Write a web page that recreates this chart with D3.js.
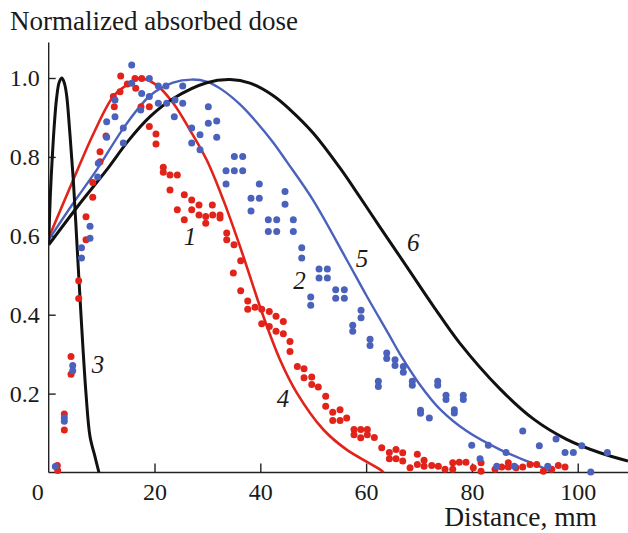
<!DOCTYPE html>
<html>
<head>
<meta charset="utf-8">
<script src="https://cdn.jsdelivr.net/npm/d3@7"></script>
<style>
  body { margin: 0; background: #fff; }
  text { font-family: "Liberation Serif", "Times New Roman", serif; fill: #1a1a1a; }
</style>
</head>
<body>
<script>
// SVG size
const w = 628;
const h = 533;

// Tick values
const xTicks = [20, 40, 60, 80, 100];
const yTicks = [0.2, 0.4, 0.6, 0.8, 1.0];

// Calculated curves [distance mm, dose]
const curve3 = [[0, 0.58], [0.3, 0.70], [0.6, 0.78], [1.0, 0.87], [1.5, 0.95], [2.0, 0.99], [2.5, 1.0],
  [3.0, 0.985], [3.4, 0.955], [4.0, 0.86], [4.65, 0.742], [5.4, 0.565], [6.1, 0.40], [7.05, 0.20],
  [7.8, 0.092], [8.75, 0.04], [9.5, 0.0]];
const curve4 = [[0, 0.595], [4.65, 0.742], [8.5, 0.86], [12.2, 0.953], [14.74, 0.982], [17.26, 0.999],
  [20.4, 0.982], [23.55, 0.936], [26.7, 0.868], [29.87, 0.792], [33.0, 0.691], [36.16, 0.573],
  [40.57, 0.396], [43.72, 0.286], [46.9, 0.202], [51.9, 0.109], [56.3, 0.058], [62.6, 0.008], [63.3, 0.0]];
const curve5 = [[0, 0.59], [4.5, 0.68], [9.07, 0.767], [14.5, 0.88], [19.15, 0.955], [23.5, 0.988],
  [27, 0.996], [30, 0.99], [33, 0.968], [36.16, 0.933], [39.3, 0.888], [42.46, 0.836], [45, 0.788],
  [50, 0.69], [56.3, 0.54], [60, 0.45], [64.5, 0.345], [66.4, 0.30], [70.2, 0.222], [74, 0.16],
  [79, 0.105], [85.3, 0.058], [91.6, 0.022], [94.1, 0.008], [95, 0.0]];
const curve6 = [[0, 0.577], [5.5, 0.675], [10.96, 0.767], [15, 0.84], [19.15, 0.902], [23.55, 0.948],
  [29.87, 0.988], [34.27, 0.996], [38.05, 0.987], [42.46, 0.955], [45.6, 0.92], [50.02, 0.86],
  [55.05, 0.772], [58.83, 0.698], [62.61, 0.622], [67.67, 0.522], [72.7, 0.422], [77.7, 0.328],
  [85.3, 0.212], [91.6, 0.136], [97.9, 0.084], [104.2, 0.05], [109.5, 0.029]];

// Measured points, series 1 (red)
const points1 = [[1.63, 0.018], [1.7, 0.005], [2.95, 0.148], [2.95, 0.108], [4.22, 0.294], [4.22, 0.249],
  [5.67, 0.486], [5.67, 0.441], [7.05, 0.648], [7.05, 0.59], [8.32, 0.735], [8.32, 0.698], [9.7, 0.813],
  [9.7, 0.788], [10.83, 0.853], [12.21, 0.953], [12.4, 0.927], [13.61, 1.005], [13.48, 0.965],
  [14.86, 0.985], [16.31, 0.999], [17.58, 0.999], [16.45, 0.974], [17.45, 0.927], [19.02, 0.927],
  [19.02, 0.877], [20.28, 0.858], [20.28, 0.833], [21.66, 0.774], [21.66, 0.761], [22.93, 0.754],
  [24.31, 0.754], [22.93, 0.716], [25.63, 0.704], [27.03, 0.691], [28.41, 0.678], [30.93, 0.678],
  [24.31, 0.666], [27.03, 0.666], [28.41, 0.653], [29.68, 0.649], [31.0, 0.653], [32.38, 0.653],
  [32.38, 0.645], [25.63, 0.641], [29.68, 0.632], [33.65, 0.607], [33.65, 0.59], [35.03, 0.577],
  [36.29, 0.537], [34.9, 0.506], [36.29, 0.461], [37.62, 0.435], [37.62, 0.414], [39.0, 0.419],
  [40.26, 0.414], [41.7, 0.408], [42.97, 0.396], [44.35, 0.383], [40.26, 0.377], [41.7, 0.37],
  [42.97, 0.358], [44.35, 0.352], [45.61, 0.332], [45.61, 0.307], [47.0, 0.269], [48.26, 0.263],
  [48.26, 0.24], [49.72, 0.242], [49.72, 0.223], [50.96, 0.217], [52.36, 0.193], [52.36, 0.168],
  [53.69, 0.153], [55.07, 0.159], [53.69, 0.132], [55.07, 0.132], [56.33, 0.138], [57.71, 0.109],
  [58.98, 0.109], [60.23, 0.109], [57.71, 0.096], [58.98, 0.088], [60.23, 0.096], [61.55, 0.089],
  [62.95, 0.063], [64.39, 0.051], [65.65, 0.058], [66.92, 0.05], [64.39, 0.035], [65.65, 0.035],
  [66.92, 0.029], [68.3, 0.012], [69.68, 0.046], [69.68, 0.02], [70.95, 0.031], [70.95, 0.016],
  [72.4, 0.018], [73.65, 0.016], [74.91, 0.008], [76.37, 0.025], [77.62, 0.026], [78.88, 0.026],
  [76.37, 0.008], [80.26, 0.012], [81.72, 0.025], [81.72, 0.003], [84.37, 0.008], [85.63, 0.014],
  [86.88, 0.025], [86.88, 0.014], [88.34, 0.012], [89.6, 0.014], [90.98, 0.02], [92.25, 0.02],
  [93.5, 0.003], [95.09, 0.008], [96.33, 0.018], [97.6, 0.014]];

// Measured points, series 2 (blue)
const points2 = [[1.25, 0.015], [2.95, 0.139], [2.95, 0.13], [4.54, 0.271], [4.54, 0.258], [6.2, 0.57],
  [6.2, 0.544], [7.81, 0.624], [7.81, 0.594], [9.26, 0.749], [9.38, 0.784], [10.96, 0.889], [10.96, 0.85],
  [12.53, 0.944], [12.53, 0.902], [14.1, 0.873], [14.1, 0.835], [15.69, 1.033], [15.69, 0.987],
  [17.39, 0.919], [17.58, 0.961], [19.02, 0.999], [19.02, 0.953], [20.72, 0.98], [22.17, 0.98],
  [25.33, 0.98], [20.72, 0.936], [22.31, 0.936], [23.88, 0.944], [25.33, 0.936], [23.74, 0.902],
  [30.17, 0.927], [30.17, 0.885], [31.76, 0.891], [31.76, 0.85], [27.03, 0.873], [27.03, 0.835],
  [28.6, 0.856], [28.6, 0.818], [35.09, 0.801], [36.67, 0.801], [33.52, 0.765], [35.09, 0.765],
  [36.67, 0.765], [33.52, 0.731], [39.81, 0.731], [38.24, 0.695], [39.81, 0.695], [38.24, 0.663],
  [44.67, 0.712], [44.67, 0.68], [41.51, 0.641], [43.1, 0.641], [46.24, 0.641], [41.51, 0.611],
  [43.1, 0.611], [46.24, 0.611], [47.83, 0.57], [47.83, 0.544], [51.1, 0.516], [52.67, 0.516],
  [51.1, 0.493], [52.67, 0.493], [54.25, 0.463], [55.88, 0.463], [54.25, 0.442], [55.88, 0.442],
  [49.53, 0.445], [49.53, 0.424], [59.04, 0.411], [59.04, 0.392], [57.47, 0.373], [57.47, 0.358],
  [60.74, 0.338], [60.74, 0.322], [63.89, 0.303], [63.89, 0.289], [65.46, 0.286], [65.46, 0.271],
  [67.03, 0.269], [67.03, 0.254], [62.31, 0.231], [62.31, 0.218], [68.73, 0.231], [68.73, 0.221],
  [70.28, 0.158], [70.28, 0.15], [71.95, 0.138], [73.53, 0.231], [73.53, 0.221], [75.1, 0.196],
  [75.1, 0.185], [76.67, 0.159], [76.67, 0.151], [78.37, 0.196], [78.37, 0.185], [79.96, 0.069],
  [81.53, 0.035], [83.1, 0.069], [84.69, 0.016], [86.45, 0.051], [88.01, 0.016], [89.6, 0.105],
  [92.74, 0.068], [94.33, 0.016], [95.9, 0.085], [97.6, 0.051], [99.17, 0.051], [100.76, 0.068],
  [102.46, 0.001], [105.6, 0.051]];

// Curve number labels [text, distance, dose]
const curveLabels = [["1", 26.7, 0.577], ["2", 47.4, 0.465], ["3", 9.3, 0.253],
  ["4", 44.3, 0.165], ["5", 59.2, 0.522], ["6", 68.9, 0.561]];

const red = "#e2231a";
const blue = "#4a62bc";

// Scales
const xScale = d3.scaleLinear().domain([0, 109.5]).range([48.7, 628]);
const yScale = d3.scaleLinear().domain([0, 1]).range([472.5, 78]);

const svg = d3.select("body")
    .append("svg")
    .attr("width", w)
    .attr("height", h);

svg.append("clipPath")
    .attr("id", "plot")
    .append("rect")
    .attr("x", xScale(0))
    .attr("y", 0)
    .attr("width", w - xScale(0))
    .attr("height", yScale(0));

// Axes
const leftAxis = d3.axisLeft(yScale)
    .tickValues(yTicks)
    .tickSize(-7)
    .tickPadding(9)
    .tickFormat(d3.format(".1f"));

const bottomAxis = d3.axisBottom(xScale)
    .tickValues(xTicks)
    .tickSize(-9)
    .tickPadding(10);

const gx = svg.append("g")
    .attr("transform", `translate(0, ${yScale(0)})`)
    .call(bottomAxis);

const gy = svg.append("g")
    .attr("transform", `translate(${xScale(0)}, 0)`)
    .call(leftAxis);

[gx, gy].forEach(g => {
    g.select(".domain").remove();
    g.selectAll(".tick line").attr("stroke", "#222").attr("stroke-width", 1.4);
    g.selectAll(".tick text")
        .attr("font-size", 24)
        .attr("font-family", "'Liberation Serif', 'Times New Roman', serif")
        .attr("fill", "#1a1a1a");
});

// Axis lines
svg.append("line")
    .attr("x1", xScale(0)).attr("x2", xScale(0))
    .attr("y1", yScale(1.09)).attr("y2", yScale(0))
    .attr("stroke", "#222").attr("stroke-width", 1.4);

svg.append("line")
    .attr("x1", xScale(0)).attr("x2", w)
    .attr("y1", yScale(0)).attr("y2", yScale(0))
    .attr("stroke", "#222").attr("stroke-width", 1.4);

// Origin label
svg.append("text")
    .attr("x", xScale(0) - 11)
    .attr("y", yScale(0) + 27)
    .attr("text-anchor", "middle")
    .attr("font-size", 24)
    .text("0");

// Lines
const line = d3.line()
    .x(d => xScale(d[0]))
    .y(d => yScale(d[1]))
    .curve(d3.curveCatmullRom.alpha(0.5));

const plot = svg.append("g").attr("clip-path", "url(#plot)");

[[curve4, red, 2.6], [curve5, blue, 2.4], [curve6, "#111", 3], [curve3, "#111", 3]].forEach(c => {
    plot.append("path")
        .datum(c[0])
        .attr("fill", "none")
        .attr("stroke", c[1])
        .attr("stroke-width", c[2])
        .attr("d", line);
});

// Points
svg.append("g")
    .selectAll("circle")
    .data(points1)
    .join("circle")
    .attr("cx", d => xScale(d[0]))
    .attr("cy", d => yScale(d[1]))
    .attr("r", 3.5)
    .attr("fill", red);

svg.append("g")
    .selectAll("circle")
    .data(points2)
    .join("circle")
    .attr("cx", d => xScale(d[0]))
    .attr("cy", d => yScale(d[1]))
    .attr("r", 3.5)
    .attr("fill", blue);

// Curve numbers
svg.append("g")
    .selectAll("text")
    .data(curveLabels)
    .join("text")
    .attr("x", d => xScale(d[1]))
    .attr("y", d => yScale(d[2]))
    .attr("text-anchor", "middle")
    .attr("font-size", 25)
    .attr("font-style", "italic")
    .text(d => d[0]);

// Titles
svg.append("text")
    .attr("x", 10)
    .attr("y", 30)
    .attr("font-size", 27)
    .text("Normalized absorbed dose");

svg.append("text")
    .attr("x", 597)
    .attr("y", 526)
    .attr("text-anchor", "end")
    .attr("font-size", 27.5)
    .text("Distance, mm");
</script>
</body>
</html>
